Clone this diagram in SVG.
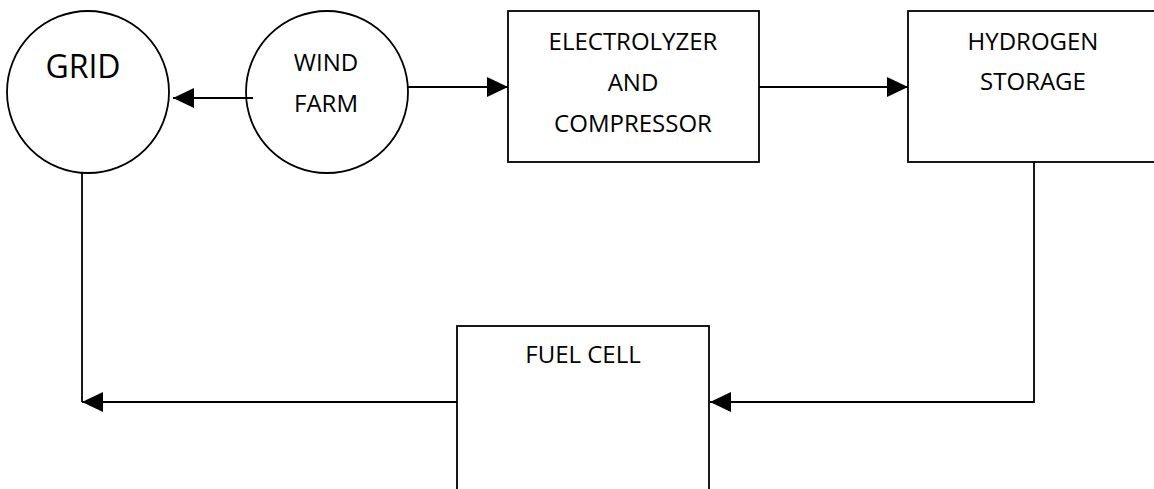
<svg xmlns="http://www.w3.org/2000/svg" width="1154" height="489" viewBox="0 0 1154 489">
  <style>
    .shape { fill: #ffffff; stroke: #000000; stroke-width: 1.8; }
    .conn { fill: none; stroke: #000000; stroke-width: 1.8; }
    .label { font-family: "Open Sans", "Liberation Sans", sans-serif; font-size: 24px; fill: #000000; text-anchor: middle; }
    .big { font-size: 32px; }
  </style>
  <defs>
    <marker id="arrow" markerUnits="userSpaceOnUse" markerWidth="21" markerHeight="20" refX="21" refY="10" orient="auto">
      <path d="M0,0 L21,10 L0,20 z" fill="#000000"/>
    </marker>
  </defs>
  <rect width="1154" height="489" fill="#ffffff"/>

  <g id="grid">
    <circle class="shape" cx="88" cy="92" r="81"/>
    <text class="label big" x="83" y="78">GRID</text>
  </g>

  <g id="wind-farm">
    <circle class="shape" cx="327" cy="92" r="81"/>
    <text class="label" x="326" y="71">WIND</text>
    <text class="label" x="326" y="112">FARM</text>
  </g>

  <g id="electrolyzer">
    <rect class="shape" x="508" y="11" width="251" height="151"/>
    <text class="label" x="633" y="50">ELECTROLYZER</text>
    <text class="label" x="633" y="91">AND</text>
    <text class="label" x="633" y="132">COMPRESSOR</text>
  </g>

  <g id="hydrogen-storage">
    <rect class="shape" x="908" y="11" width="260" height="151"/>
    <text class="label" x="1033" y="50">HYDROGEN</text>
    <text class="label" x="1033" y="90">STORAGE</text>
  </g>

  <g id="fuel-cell">
    <rect class="shape" x="457" y="326" width="252" height="180"/>
    <text class="label" x="583" y="363">FUEL CELL</text>
  </g>

  <g id="connectors">
    <line class="conn" x1="253" y1="98" x2="173" y2="98" marker-end="url(#arrow)"/>
    <line class="conn" x1="408" y1="87" x2="508" y2="87" marker-end="url(#arrow)"/>
    <line class="conn" x1="759" y1="87" x2="908" y2="87" marker-end="url(#arrow)"/>
    <path class="conn" d="M1034,162 V402 H710" marker-end="url(#arrow)"/>
    <line class="conn" x1="82" y1="173" x2="82" y2="402"/>
    <line class="conn" x1="457" y1="402" x2="82" y2="402" marker-end="url(#arrow)"/>
  </g>
</svg>
